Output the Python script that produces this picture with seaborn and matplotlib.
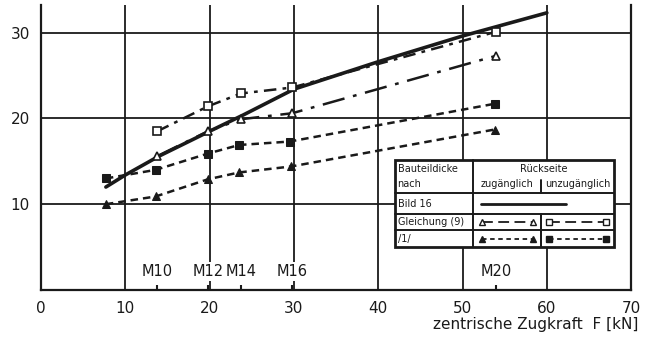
import matplotlib
matplotlib.use("Agg")
import matplotlib.pyplot as plt
from matplotlib.lines import Line2D
from matplotlib.patches import Rectangle
import seaborn as sns
import pandas as pd

# ---- data ----
bild16_F = [7.7, 10, 14, 20, 24, 30, 40, 50, 60]
bild16_y = [12.0, 13.4, 15.6, 18.5, 20.4, 23.4, 26.6, 29.6, 32.3]

gl9_zug_F = [13.8, 19.8, 23.7, 29.8, 54.0]
gl9_zug_y = [15.6, 18.5, 19.9, 20.6, 27.3]

gl9_unz_F = [13.8, 19.8, 23.7, 29.8, 54.0]
gl9_unz_y = [18.5, 21.4, 22.9, 23.6, 30.1]

lit_zug_F = [7.7, 13.6, 19.8, 23.5, 29.7, 53.8]
lit_zug_y = [10.0, 10.9, 12.9, 13.7, 14.4, 18.7]

lit_unz_F = [7.7, 13.6, 19.8, 23.5, 29.5, 53.8]
lit_unz_y = [13.0, 14.0, 15.9, 16.9, 17.3, 21.7]

bolt_names = ["M10", "M12", "M14", "M16", "M20"]
bolt_F = [13.8, 19.8, 23.7, 29.8, 54.0]

x_ticks = [0, 10, 20, 30, 40, 50, 60, 70]
y_ticks = [10, 20, 30]
x_label = "zentrische Zugkraft  F [kN]"

sns.set_theme(style="white")
plt.rcParams["font.family"] = ["DejaVu Sans"]

fig = plt.figure(figsize=(6.5, 3.4), dpi=100)
ax = fig.add_axes([0.063, 0.147, 0.908, 0.838])

K = "#1a1a1a"

sns.lineplot(x=bild16_F, y=bild16_y, ax=ax, color=K, lw=2.6, zorder=5, sort=True)
sns.lineplot(x=gl9_zug_F, y=gl9_zug_y, ax=ax, color=K, lw=1.8, zorder=5,
             linestyle=(0, (9, 3.5, 1.5, 3.5)), marker="^", markersize=6,
             markerfacecolor="white", markeredgecolor=K, markeredgewidth=1.2)
sns.lineplot(x=gl9_unz_F, y=gl9_unz_y, ax=ax, color=K, lw=1.8, zorder=5,
             linestyle=(0, (5, 2.5, 1.5, 2.5)), marker="s", markersize=6,
             markerfacecolor="white", markeredgecolor=K, markeredgewidth=1.2)
sns.lineplot(x=lit_zug_F, y=lit_zug_y, ax=ax, color=K, lw=1.8, zorder=5,
             linestyle=(0, (3, 2)), marker="^", markersize=6,
             markerfacecolor=K, markeredgecolor=K)
sns.lineplot(x=lit_unz_F, y=lit_unz_y, ax=ax, color=K, lw=1.8, zorder=5,
             linestyle=(0, (3, 2)), marker="s", markersize=6,
             markerfacecolor=K, markeredgecolor=K)

ax.set_xlim(0, 70)
ax.set_ylim(0, 33.2)
ax.set_xticks(x_ticks)
ax.set_yticks(y_ticks)
ax.set_xticklabels([str(v) for v in x_ticks], fontsize=11, color=K)
ax.set_yticklabels([str(v) for v in y_ticks], fontsize=11, color=K)
ax.tick_params(axis="both", length=0, pad=8)
ax.set_xlabel("")
ax.set_ylabel("")
ax.grid(True, color=K, lw=1.3)
ax.set_axisbelow(True)
for side in ["left", "right", "bottom"]:
    ax.spines[side].set_color(K)
    ax.spines[side].set_linewidth(1.6)
ax.spines["top"].set_visible(False)

# bolt markers
for name, f in zip(bolt_names, bolt_F):
    ax.plot([f, f], [0, 0.6], color=K, lw=1.5, zorder=6, solid_capstyle="butt")
    ax.text(f, 2.2, name, ha="center", va="center", fontsize=10.5, color=K,
            zorder=7, bbox=dict(facecolor="white", edgecolor="none", pad=1.5))

fig.text(0.982, 0.045, x_label, ha="right", va="center", fontsize=11, color=K)

# ---- legend table ----
x0, x1, c1, c2 = 42.0, 68.0, 51.2, 59.3
yt, yh, yb16, yg9, yb = 15.2, 11.3, 8.8, 7.0, 5.0
ax.add_patch(Rectangle((x0, yb), x1 - x0, yt - yb, facecolor="white",
                       edgecolor=K, lw=2.0, zorder=8))
lk = dict(color=K, lw=1.4, zorder=9)
for yy in [yh, yb16, yg9]:
    ax.plot([x0, x1], [yy, yy], **lk)
ax.plot([c1, c1], [yb, yt], **lk)
ax.plot([c2, c2], [yb, yg9 + (yb16 - yg9)], **lk)
ax.plot([c2, c2], [yh, yh + 1.5], **lk)
ax.plot([c2, c2], [yb, yb16], **lk)
tk = dict(fontsize=7, color=K, zorder=10)
ax.text(x0 + 0.3, 14.1, "Bauteildicke", ha="left", va="center", **tk)
ax.text(x0 + 0.3, 12.4, "nach", ha="left", va="center", **tk)
ax.text((c1 + x1) / 2, 14.1, "Rückseite", ha="center", va="center", **tk)
ax.text((c1 + c2) / 2, 12.4, "zugänglich", ha="center", va="center", **tk)
ax.text((c2 + x1) / 2, 12.4, "unzugänglich", ha="center", va="center", **tk)
ax.text(x0 + 0.3, (yh + yb16) / 2, "Bild 16", ha="left", va="center", **tk)
ax.text(x0 + 0.3, (yb16 + yg9) / 2, "Gleichung (9)", ha="left", va="center", **tk)
ax.text(x0 + 0.3, (yg9 + yb) / 2, "/1/", ha="left", va="center", **tk)

ym = (yh + yb16) / 2
ax.add_line(Line2D([52.2, 62.3], [ym, ym], color=K, lw=2.0, zorder=10))
yg = (yb16 + yg9) / 2
yl = (yg9 + yb) / 2
ax.add_line(Line2D([52.3, 58.3], [yg, yg], color=K, lw=1.3, zorder=10,
                   linestyle=(0, (6, 3)), marker="^", markevery=[0, 1],
                   markersize=5, markerfacecolor="white", markeredgecolor=K))
ax.add_line(Line2D([60.3, 67.0], [yg, yg], color=K, lw=1.3, zorder=10,
                   linestyle=(0, (6, 3)), marker="s", markevery=[0, 1],
                   markersize=5, markerfacecolor="white", markeredgecolor=K))
ax.add_line(Line2D([52.3, 58.3], [yl, yl], color=K, lw=1.3, zorder=10,
                   linestyle=(0, (2.5, 2)), marker="^", markevery=[0, 1],
                   markersize=5, markerfacecolor=K, markeredgecolor=K))
ax.add_line(Line2D([60.3, 67.0], [yl, yl], color=K, lw=1.3, zorder=10,
                   linestyle=(0, (2.5, 2)), marker="s", markevery=[0, 1],
                   markersize=5, markerfacecolor=K, markeredgecolor=K))

fig.savefig("out.png", dpi=100, facecolor="white")
